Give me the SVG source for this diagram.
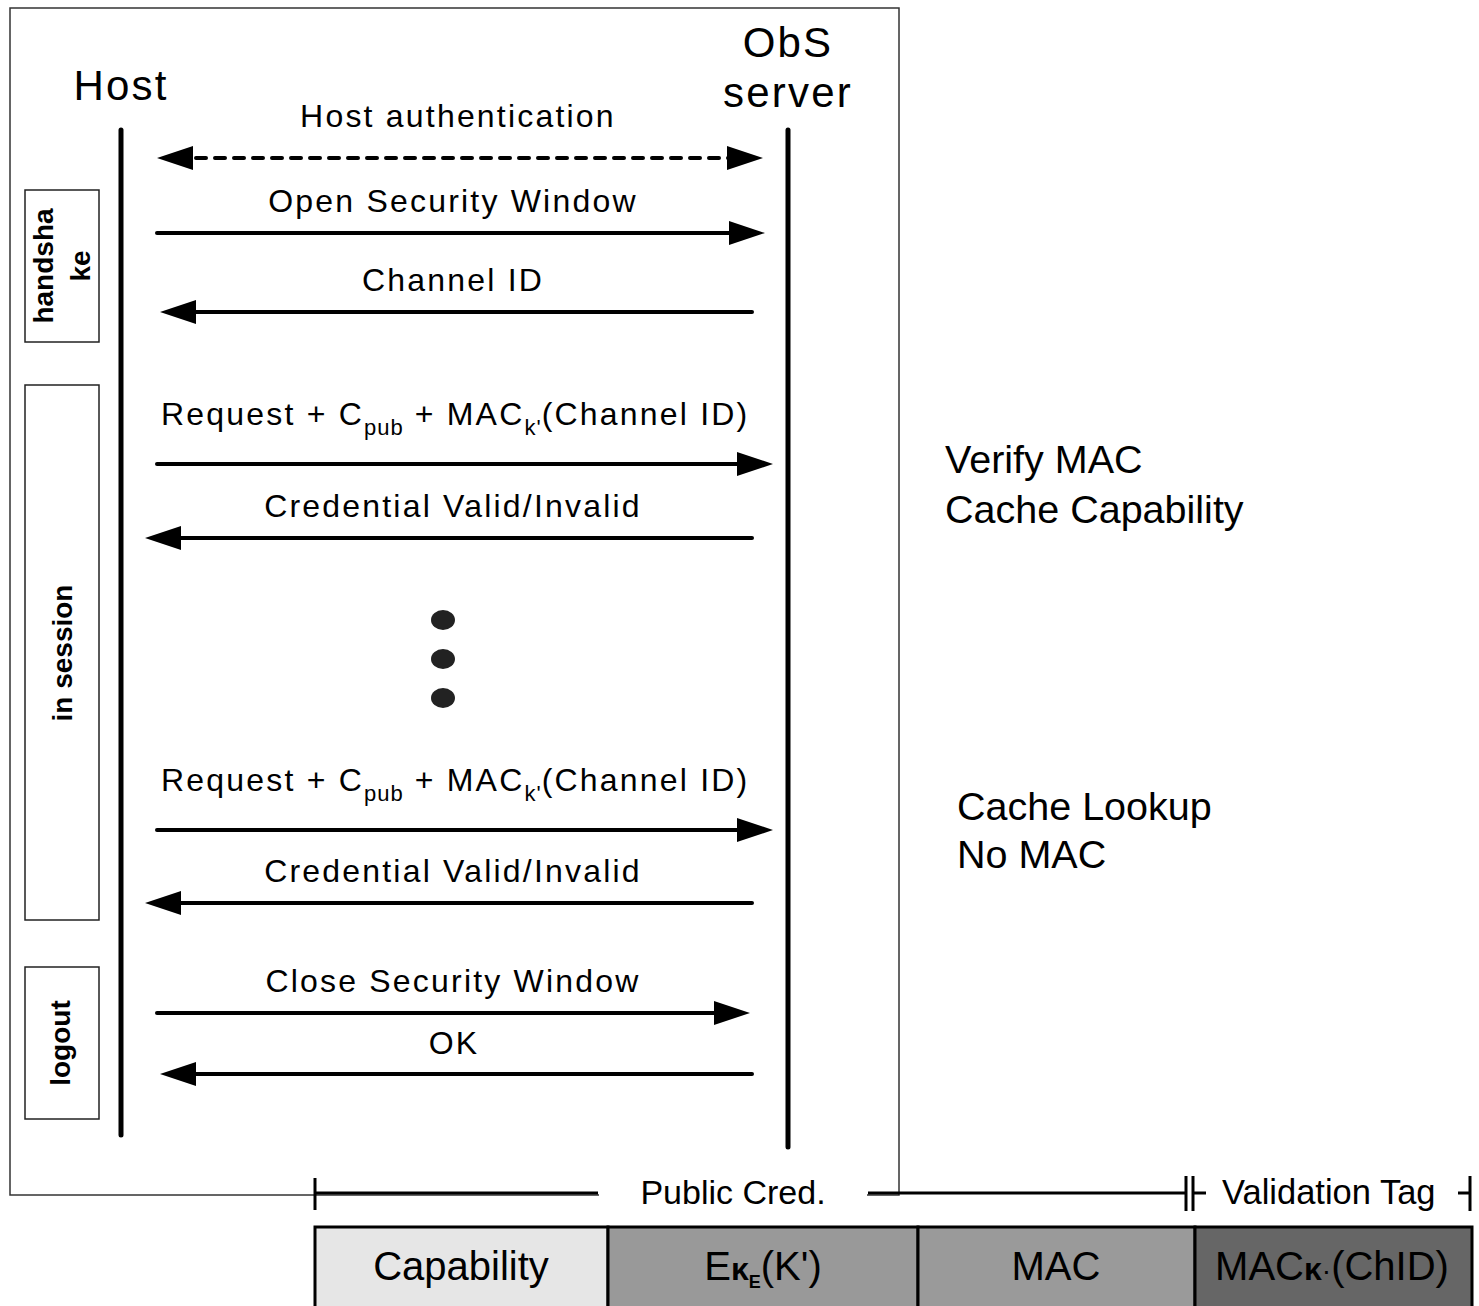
<svg xmlns="http://www.w3.org/2000/svg" width="1479" height="1306" viewBox="0 0 1479 1306">
<style>
text{font-family:"Liberation Sans",Arial,sans-serif;fill:#000}
.msg{font-size:32px;letter-spacing:2.2px;text-anchor:middle}
.sub{font-size:22px;letter-spacing:1px}
.title{font-size:42px;letter-spacing:2.2px;text-anchor:middle}
.note{font-size:39.5px}
.phase{font-size:28px;font-weight:bold;text-anchor:middle}
.box{fill:none;stroke:#222;stroke-width:1.5}
.life{stroke:#000;stroke-width:5;stroke-linecap:round}
.arr{stroke:#000;stroke-width:4;stroke-linecap:round;fill:none;marker-end:url(#ah)}
.dim{stroke:#000;stroke-width:3;fill:none}
.cell{stroke:#000;stroke-width:3}
.celltxt{font-size:40px;text-anchor:middle}
</style>
<defs>
<marker id="ah" markerUnits="userSpaceOnUse" viewBox="0 0 36 24" markerWidth="36" markerHeight="24" refX="16" refY="12" orient="auto-start-reverse">
<path d="M0,0 L36,12 L0,24 z" fill="#000"/>
</marker>
</defs>
<rect id="frame" x="10" y="8" width="889" height="1187" fill="none" stroke="#333" stroke-width="1.5"/>
<g id="host"><text class="title" x="121" y="100">Host</text><line class="life" x1="121" y1="130" x2="121" y2="1135"/></g>
<g id="server"><text class="title" x="788" y="57">ObS</text><text class="title" x="788" y="107">server</text><line class="life" x1="788" y1="130" x2="788" y2="1147"/></g>
<g id="phase-handshake"><rect class="box" x="25" y="190" width="74" height="152"/><text class="phase" transform="translate(53,266) rotate(-90)"><tspan x="0" y="0">handsha</tspan><tspan x="0" dy="37">ke</tspan></text></g>
<g id="phase-session"><rect class="box" x="25" y="385" width="74" height="535"/><text class="phase" transform="translate(72,653) rotate(-90)">in session</text></g>
<g id="phase-logout"><rect class="box" x="25" y="967" width="74" height="152"/><text class="phase" transform="translate(70,1043) rotate(-90)">logout</text></g>
<g id="connectors">
<line class="arr" x1="177" y1="158" x2="743" y2="158" stroke-dasharray="10 9" style="marker-start:url(#ah)"/>
<line class="arr" x1="157" y1="233" x2="745" y2="233"/>
<line class="arr" x1="752" y1="312" x2="180" y2="312"/>
<line class="arr" x1="157" y1="464" x2="753" y2="464"/>
<line class="arr" x1="752" y1="538" x2="165" y2="538"/>
<line class="arr" x1="157" y1="830" x2="753" y2="830"/>
<line class="arr" x1="752" y1="903" x2="165" y2="903"/>
<line class="arr" x1="157" y1="1013" x2="730" y2="1013"/>
<line class="arr" x1="752" y1="1074" x2="180" y2="1074"/>
</g>
<g id="labels">
<text class="msg" x="458" y="127">Host authentication</text>
<text class="msg" x="453" y="212">Open Security Window</text>
<text class="msg" x="453" y="291">Channel ID</text>
<text class="msg" x="161" y="425" style="text-anchor:start">Request + C<tspan class="sub" dy="10">pub</tspan><tspan dy="-10"> + MAC</tspan><tspan class="sub" dy="10">k'</tspan><tspan dy="-10">(Channel ID)</tspan></text>
<text class="msg" x="453" y="517">Credential Valid/Invalid</text>
<text class="msg" x="161" y="791" style="text-anchor:start">Request + C<tspan class="sub" dy="10">pub</tspan><tspan dy="-10"> + MAC</tspan><tspan class="sub" dy="10">k'</tspan><tspan dy="-10">(Channel ID)</tspan></text>
<text class="msg" x="453" y="882">Credential Valid/Invalid</text>
<text class="msg" x="453" y="992">Close Security Window</text>
<text class="msg" x="454" y="1054">OK</text>
</g>
<g id="ellipsis" fill="#222"><ellipse cx="443" cy="620" rx="12" ry="10"/><ellipse cx="443" cy="659" rx="12" ry="10"/><ellipse cx="443" cy="698" rx="12" ry="10"/></g>
<g id="note-verify"><text class="note" x="945" y="473">Verify MAC</text><text class="note" x="945" y="523">Cache Capability</text></g>
<g id="note-lookup"><text class="note" x="957" y="820">Cache Lookup</text><text class="note" x="957" y="868">No MAC</text></g>
<g id="dimension">
<rect x="599" y="1176" width="268" height="34" fill="#fff"/>
<line class="dim" x1="315" y1="1178" x2="315" y2="1210"/>
<line class="dim" x1="315" y1="1193" x2="598" y2="1193"/>
<text x="733" y="1204" style="font-size:34px;text-anchor:middle">Public Cred.</text>
<line class="dim" x1="868" y1="1193" x2="1186" y2="1193"/>
<line class="dim" x1="1186" y1="1176" x2="1186" y2="1211"/>
<line class="dim" x1="1193" y1="1176" x2="1193" y2="1211"/>
<line class="dim" x1="1193" y1="1193" x2="1206" y2="1193"/>
<text x="1222" y="1204" style="font-size:34.5px">Validation Tag</text>
<line class="dim" x1="1458" y1="1193" x2="1470" y2="1193"/>
<line class="dim" x1="1470" y1="1176" x2="1470" y2="1211"/>
</g>
<g id="cell-capability"><rect class="cell" x="315" y="1227" width="293" height="90" fill="#e6e6e6"/><text class="celltxt" x="461" y="1280">Capability</text></g>
<g id="cell-enc"><rect class="cell" x="608" y="1227" width="310" height="90" fill="#999"/><text class="celltxt" x="763" y="1280">E<tspan style="font-weight:bold;font-size:32px">κ</tspan><tspan style="font-weight:bold;font-size:18px" dy="8">E</tspan><tspan dy="-8">(K')</tspan></text></g>
<g id="cell-mac"><rect class="cell" x="918" y="1227" width="277" height="90" fill="#9a9a9a"/><text class="celltxt" x="1056" y="1280">MAC</text></g>
<g id="cell-tag"><rect class="cell" x="1195" y="1227" width="277" height="90" fill="#666"/><text class="celltxt" x="1332" y="1280">MAC<tspan style="font-weight:bold;font-size:32px">κ</tspan><tspan style="font-size:28px">·</tspan>(ChID)</text></g>
</svg>
